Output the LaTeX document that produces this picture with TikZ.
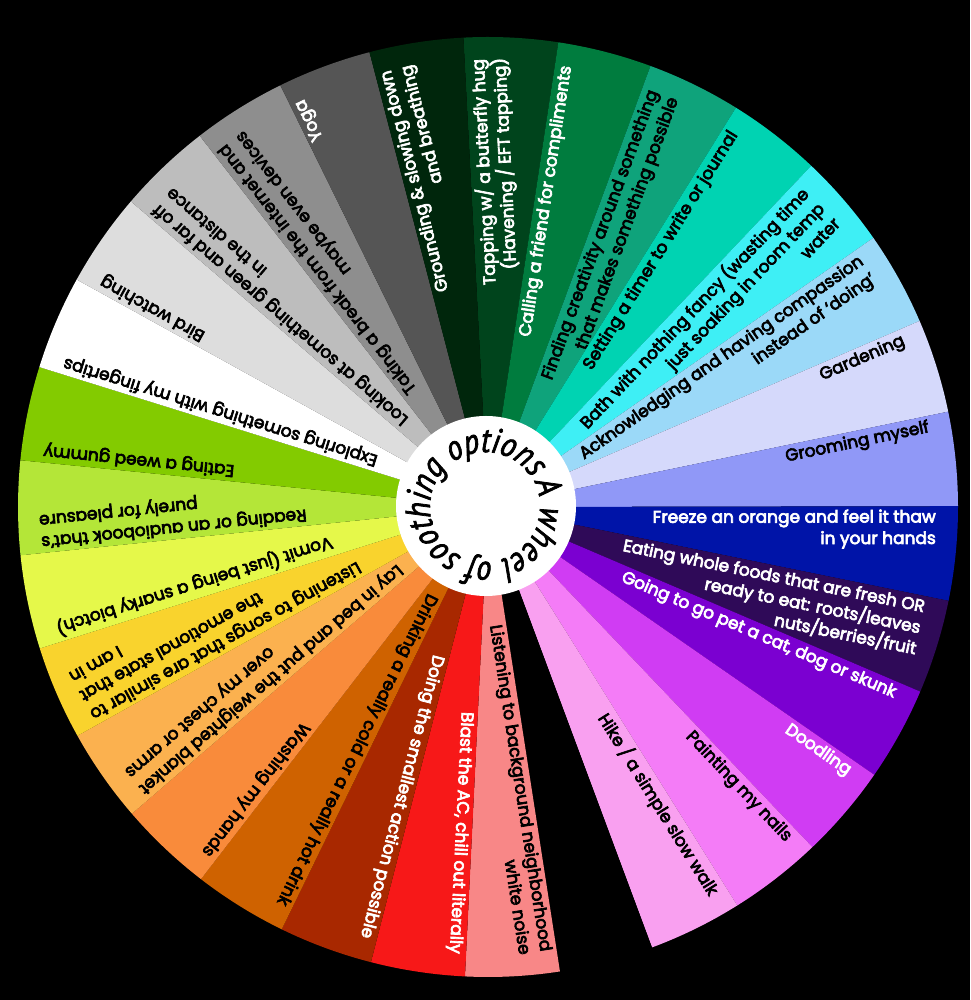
\documentclass[tikz,border=0pt]{standalone}
\usepackage{fontspec}
\setmainfont{Poppins}[FakeBold=4]
\newfontfamily\circfont{PT Sans}[FakeStretch=0.86, FakeBold=2]
\usetikzlibrary{calc,decorations.text}
\definecolor{s0}{HTML}{00441C}
\definecolor{s1}{HTML}{007C3E}
\definecolor{s2}{HTML}{0FA37B}
\definecolor{s3}{HTML}{00D3B2}
\definecolor{s4}{HTML}{3EEFF5}
\definecolor{s5}{HTML}{9BD9F8}
\definecolor{s6}{HTML}{D5D9FB}
\definecolor{s7}{HTML}{9098F7}
\definecolor{s8}{HTML}{0014A8}
\definecolor{s9}{HTML}{2F0A58}
\definecolor{s10}{HTML}{7B00D1}
\definecolor{s11}{HTML}{D03CF3}
\definecolor{s12}{HTML}{F47CF7}
\definecolor{s13}{HTML}{F9A0F0}
\definecolor{s14}{HTML}{000000}
\definecolor{s15}{HTML}{F88787}
\definecolor{s16}{HTML}{F71818}
\definecolor{s17}{HTML}{A82800}
\definecolor{s18}{HTML}{CF6200}
\definecolor{s19}{HTML}{F98B3B}
\definecolor{s20}{HTML}{FBB14F}
\definecolor{s21}{HTML}{F9D32D}
\definecolor{s22}{HTML}{E5F84A}
\definecolor{s23}{HTML}{B4E638}
\definecolor{s24}{HTML}{83CB00}
\definecolor{s25}{HTML}{FFFFFF}
\definecolor{s26}{HTML}{DDDDDD}
\definecolor{s27}{HTML}{BDBDBD}
\definecolor{s28}{HTML}{8E8E8E}
\definecolor{s29}{HTML}{555555}
\definecolor{s30}{HTML}{00260C}
\newcommand\wheelseg[3]{%
  \pgfmathsetmacro\sa{93-11.6129*#1}%
  \pgfmathsetmacro\ea{\sa-11.6129}%
  \fill[s#1] (C) -- ([shift={(\sa:470)}]C) arc[start angle=\sa, end angle=\ea, radius=470] -- cycle;
  \node[seglabel, text=#2, rotate=\sa] (L#1) at ([shift={(\sa:451)}]C) {#3};
}
\begin{document}
\begin{tikzpicture}[x=1pt,y=1pt]
\tikzset{seglabel/.style={anchor=north east, align=right, inner sep=3pt,
  font=\fontsize{17}{21.5}\selectfont}}
\fill[black] (0,0) rectangle (970,1000);
\coordinate (C) at (488,493);
\wheelseg{0}{white}{Tapping w/ a butterfly hug\\(Havening / EFT tapping)}
\wheelseg{1}{white}{Calling a friend for compliments}
\wheelseg{2}{black}{Finding creativity around something\\that makes something possible}
\wheelseg{3}{black}{Setting a timer to write or journal}
\wheelseg{4}{black}{Bath with nothing fancy (wasting time\\just soaking in room temp\\water}
\wheelseg{5}{black}{Acknowledging and having compassion\\instead of ‘doing’}
\wheelseg{6}{black}{Gardening}
\wheelseg{7}{black}{Grooming myself}
\wheelseg{8}{white}{Freeze an orange and feel it thaw\\in your hands}
\wheelseg{9}{white}{Eating whole foods that are fresh OR\\ready to eat: roots/leaves\\nuts/berries/fruit}
\wheelseg{10}{white}{Going to go pet a cat, dog or skunk}
\wheelseg{11}{white}{Doodling}
\wheelseg{12}{black}{Painting my nails}
\wheelseg{13}{black}{Hike / a simple slow walk}
\wheelseg{14}{black}{}
\wheelseg{15}{black}{Listening to background neighborhood\\white noise}
\wheelseg{16}{white}{Blast the AC, chill out literally}
\wheelseg{17}{white}{Doing the smallest action possible}
\wheelseg{18}{black}{Drinking a really cold or a really hot drink}
\wheelseg{19}{black}{Washing my hands}
\wheelseg{20}{black}{Lay in bed and put the weighted blanket\\over my chest or arms}
\wheelseg{21}{black}{Listening to songs that are similar to\\the emotional state that\\I am in}
\wheelseg{22}{black}{Vomit (just being a snarky biotch)}
\wheelseg{23}{black}{Reading or an audiobook that’s\\purely for pleasure}
\wheelseg{24}{black}{Eating a weed gummy}
\wheelseg{25}{black}{Exploring something with my fingertips}
\wheelseg{26}{black}{Bird watching}
\wheelseg{27}{black}{Looking at something green and far off\\in the distance}
\wheelseg{28}{black}{Taking a break from the internet and\\maybe even devices}
\wheelseg{29}{white}{Yoga}
\wheelseg{30}{white}{Grounding \& slowing down\\and breathing}
\node[circle, fill=white, minimum size=180pt, inner sep=0pt] (hub) at (486,494) {};
\coordinate (T) at (485,493);
\path[decorate, decoration={text along path, text align=left,
  text={|\circfont\itshape\fontsize{35}{35}\selectfont|A wheel of soothing options}}]
  ([shift={(27:55)}]T) arc[start angle=27, end angle=-333, radius=55];
\end{tikzpicture}
\end{document}
